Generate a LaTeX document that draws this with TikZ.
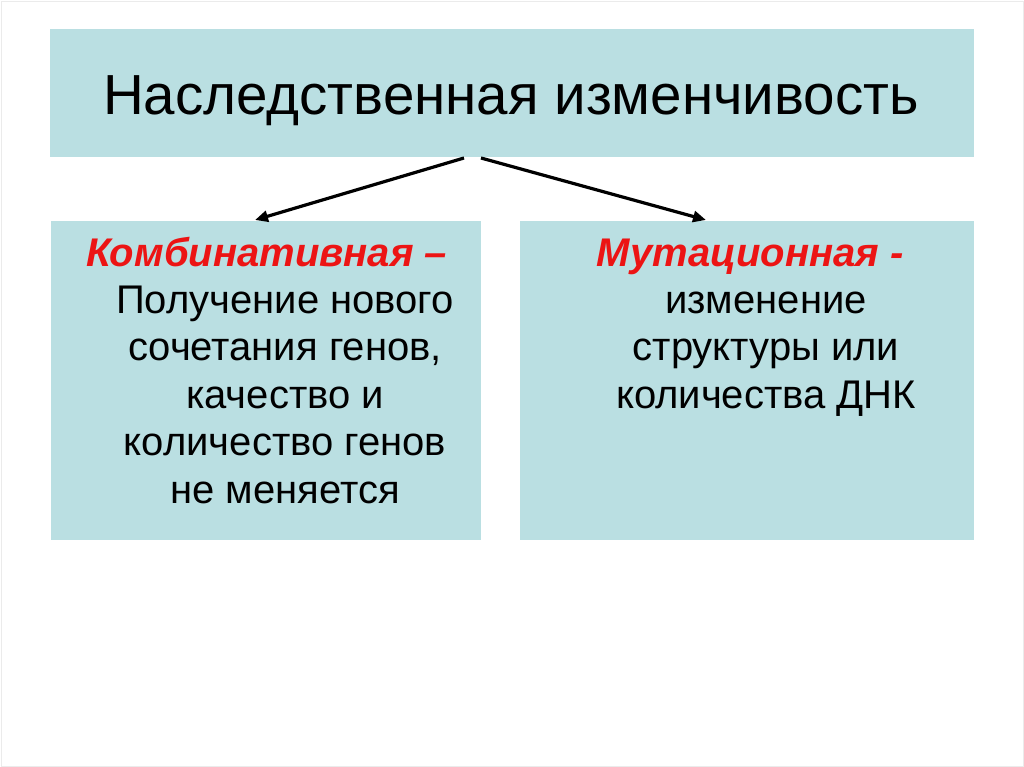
\documentclass[tikz,border=0pt]{standalone}
\usepackage{fontspec}
\setmainfont{Liberation Sans}
\usetikzlibrary{arrows.meta}
\definecolor{boxfill}{RGB}{186,223,226}
\definecolor{headred}{RGB}{236,20,20}
\begin{document}
\begin{tikzpicture}[x=1pt,y=-1pt]
\tikzstyle{every node}+=[inner sep=0pt]
\tikzstyle{panel}=[fill=boxfill, draw=none, rectangle]
\tikzstyle{bodytext}=[align=center, font=\fontsize{40}{47.5}\selectfont, anchor=base]
\tikzstyle{headtext}=[font=\fontsize{40}{47.5}\selectfont\bfseries\itshape, text=headred, anchor=base]
\tikzstyle{link}=[line width=3.2pt, -{Triangle[length=13pt,width=11pt]}]
\useasboundingbox (0,0) rectangle (1024,767);
\draw [black!8, line width=0.8pt] (1,1) rectangle (1023,766);
% boxes
\node [panel, minimum width=924pt, minimum height=128pt] (top) at (512,93) {};
\node [panel, minimum width=430pt, minimum height=319pt] (comb) at (266,380.5) {};
\node [panel, minimum width=454pt, minimum height=319pt] (mut) at (747,380.5) {};
% texts (base of a multi-line node = last line)
\node [anchor=base, font=\fontsize{56.5}{68}\selectfont] (toptext) at (511,115) {Наследственная изменчивость};
\node [headtext] (combhead) at (267,266) {Комбинативная –};
\node [bodytext] (combbody) at (285,503) {Получение нового\\сочетания генов,\\качество и\\количество генов\\не меняется};
\node [headtext] (muthead) at (750,266) {Мутационная -};
\node [bodytext] (mutbody) at (766,408) {изменение\\структуры или\\количества ДНК};
% arrows
\coordinate (fromL) at (464,158);
\coordinate (toL) at (255,220);
\coordinate (fromR) at (481,158);
\coordinate (toR) at (706,220);
\draw [link] (fromL) -- (toL);
\draw [link] (fromR) -- (toR);
\end{tikzpicture}
\end{document}
